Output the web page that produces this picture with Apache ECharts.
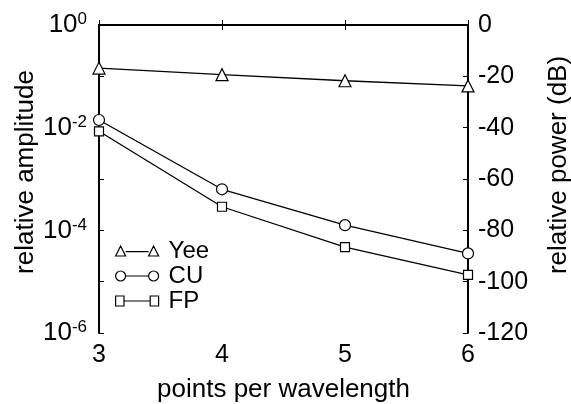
<!DOCTYPE html>
<html>
	<head>
		<meta charset="utf-8">
		<title></title>
		<script src="https://cdn.jsdelivr.net/npm/echarts@6/dist/echarts.min.js" type="text/javascript" charset="utf-8"></script>
		<style>
			body { margin: 0; background: #fff; }
		</style>
	</head>
	<body>
		<div id="main" style="width: 571px;height:404px;"></div>

		<script type="text/javascript">
			// points per wavelength
			var ppw = [3, 4, 5, 6]
			// relative amplitude
			var yee = [0.145, 0.108, 0.082, 0.065]
			var cu = [0.0141, 0.00063, 0.000126, 0.0000355]
			var fp = [0.0085, 0.000288, 0.000047, 0.0000136]
			var seriesNames = ['Yee', 'CU', 'FP']

			var font = "'Liberation Sans', Arial, Helvetica, sans-serif"

			// legend icons: marker - line - marker
			var icons = {
				Yee: 'path://M0,10 L5,1 L10,10 Z M10,6 L33,6 M33,10 L38,1 L43,10 Z',
				CU: 'path://M0,5 A5,5 0 1,0 10,5 A5,5 0 1,0 0,5 Z M10,5 L33,5 M33,5 A5,5 0 1,0 43,5 A5,5 0 1,0 33,5 Z',
				FP: 'path://M1,1 L9,1 L9,9 L1,9 Z M9,5 L34,5 M34,1 L42,1 L42,9 L34,9 Z'
			}

			function pairs(ys) {
				let out = []
				for (let i = 0; i < ppw.length; i++) {
					out.push([ppw[i], ys[i]])
				}
				return out
			}

			function makeSeries(name, ys, symbol, size) {
				return {
					name: name,
					type: 'line',
					xAxisIndex: 0,
					yAxisIndex: 0,
					data: pairs(ys),
					symbol: symbol,
					symbolSize: size,
					showAllSymbol: true,
					lineStyle: { color: '#000', width: 1.3 },
					itemStyle: { color: '#fff', borderColor: '#000', borderWidth: 1.2 },
					z: 5
				}
			}

			var chartDom = document.getElementById('main');
			var myChart = echarts.init(chartDom);

			var option = {
				animation: false,
				textStyle: { fontFamily: font },
				grid: {
					left: 99,
					right: 103,
					top: 25,
					bottom: 71,
					outerBoundsMode: 'none'
				},
				legend: {
					orient: 'vertical',
					left: 110,
					top: 234,
					itemWidth: 43,
					itemHeight: 10,
					itemGap: 1,
					symbolKeepAspect: false,
					textStyle: { fontSize: 24, lineHeight: 24, color: '#000', fontFamily: font, padding: [0, 0, 0, 5] },
					data: seriesNames.map(function (n) {
						return { name: n, icon: icons[n], itemStyle: { color: '#fff', borderColor: '#000', borderWidth: 1.2 } }
					})
				},
				xAxis: [
					{
						type: 'value',
						min: 3,
						max: 6,
						interval: 1,
						name: 'points per wavelength',
						nameLocation: 'middle',
						nameGap: 44,
						nameTextStyle: { fontSize: 26, color: '#000' },
						axisLine: { lineStyle: { color: '#000', width: 2 } },
						axisTick: { inside: true, length: 5, lineStyle: { color: '#000' } },
						axisLabel: { fontSize: 25, color: '#000', margin: 10 },
						splitLine: { show: false }
					},
					{
						type: 'value',
						position: 'top',
						min: 3,
						max: 6,
						interval: 1,
						axisLine: { onZero: false, lineStyle: { color: '#000', width: 2 } },
						axisTick: { inside: true, length: 5, lineStyle: { color: '#000' } },
						axisLabel: { show: false },
						splitLine: { show: false }
					}
				],
				yAxis: [
					{
						type: 'log',
						logBase: 10,
						min: 1e-6,
						max: 1,
						splitNumber: 6,
						name: 'relative amplitude',
						nameLocation: 'middle',
						nameRotate: 90,
						nameGap: 60,
						nameMoveOverlap: false,
						nameTextStyle: { fontSize: 26, color: '#000', padding: [0, 0, 0, 14] },
						axisLine: { onZero: false, lineStyle: { color: '#000', width: 2 } },
						axisTick: { inside: true, length: 5, lineStyle: { color: '#000' } },
						axisLabel: {
							margin: 12,
							formatter: function (v) {
								let e = Math.round(Math.log10(v))
								if (e % 2 !== 0) return ''
								return '{b|10}{s|' + e + '}'
							},
							rich: {
								b: { fontSize: 26, color: '#000', fontFamily: font, lineHeight: 28 },
								s: { fontSize: 17, color: '#000', fontFamily: font, verticalAlign: 'top', lineHeight: 17 }
							}
						},
						splitLine: { show: false }
					},
					{
						type: 'value',
						min: -120,
						max: 0,
						interval: 20,
						position: 'right',
						name: 'relative power (dB)',
						nameLocation: 'middle',
						nameRotate: 90,
						nameGap: 78,
						nameTextStyle: { fontSize: 26, color: '#000', padding: [0, 0, 0, 28] },
						axisLine: { onZero: false, lineStyle: { color: '#000', width: 2 } },
						axisTick: { inside: true, length: 5, lineStyle: { color: '#000' } },
						axisLabel: { fontSize: 25, color: '#000', margin: 10 },
						splitLine: { show: false }
					}
				],
				series: [
					makeSeries('Yee', yee, 'triangle', 12),
					makeSeries('CU', cu, 'circle', 11),
					makeSeries('FP', fp, 'rect', 9)
				]
			}

			myChart.setOption(option);
		</script>
	</body>
</html>
